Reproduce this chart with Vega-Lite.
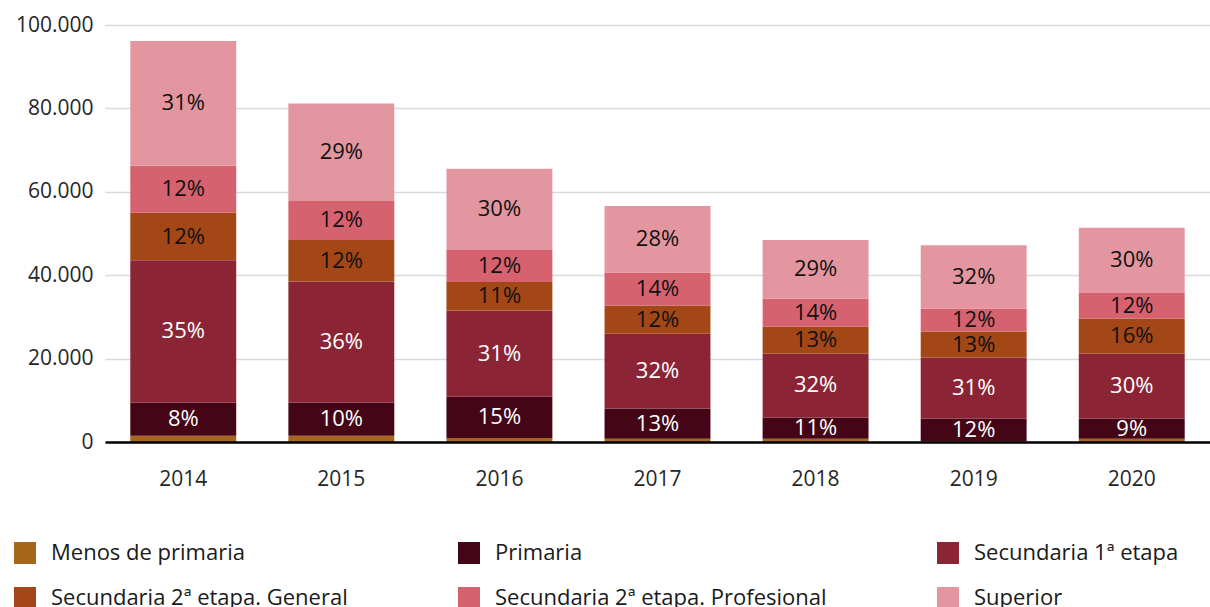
{
  "$schema": "https://vega.github.io/schema/vega-lite/v6.json",
  "width": 1105,
  "height": 417,
  "autosize": {"type": "none"},
  "padding": {"left": 105, "top": 25, "right": 0, "bottom": 165},
  "config": {"view": {"stroke": null}, "font": "Open Sans"},
  "data": {
    "values": [
      {"anio": "2014", "nivel": "Menos de primaria", "valor": 1500, "pct": ""},
      {"anio": "2014", "nivel": "Primaria", "valor": 7980, "pct": "8%"},
      {"anio": "2014", "nivel": "Secundaria 1ª etapa", "valor": 34100, "pct": "35%"},
      {"anio": "2014", "nivel": "Secundaria 2ª etapa. General", "valor": 11400, "pct": "12%"},
      {"anio": "2014", "nivel": "Secundaria 2ª etapa. Profesional", "valor": 11260, "pct": "12%"},
      {"anio": "2014", "nivel": "Superior", "valor": 29940, "pct": "31%"},
      {"anio": "2015", "nivel": "Menos de primaria", "valor": 1510, "pct": ""},
      {"anio": "2015", "nivel": "Primaria", "valor": 7980, "pct": "10%"},
      {"anio": "2015", "nivel": "Secundaria 1ª etapa", "valor": 28980, "pct": "36%"},
      {"anio": "2015", "nivel": "Secundaria 2ª etapa. General", "valor": 9990, "pct": "12%"},
      {"anio": "2015", "nivel": "Secundaria 2ª etapa. Profesional", "valor": 9340, "pct": "12%"},
      {"anio": "2015", "nivel": "Superior", "valor": 23390, "pct": "29%"},
      {"anio": "2016", "nivel": "Menos de primaria", "valor": 960, "pct": ""},
      {"anio": "2016", "nivel": "Primaria", "valor": 9890, "pct": "15%"},
      {"anio": "2016", "nivel": "Secundaria 1ª etapa", "valor": 20670, "pct": "31%"},
      {"anio": "2016", "nivel": "Secundaria 2ª etapa. General", "valor": 6870, "pct": "11%"},
      {"anio": "2016", "nivel": "Secundaria 2ª etapa. Profesional", "valor": 7660, "pct": "12%"},
      {"anio": "2016", "nivel": "Superior", "valor": 19470, "pct": "30%"},
      {"anio": "2017", "nivel": "Menos de primaria", "valor": 790, "pct": ""},
      {"anio": "2017", "nivel": "Primaria", "valor": 7260, "pct": "13%"},
      {"anio": "2017", "nivel": "Secundaria 1ª etapa", "valor": 17890, "pct": "32%"},
      {"anio": "2017", "nivel": "Secundaria 2ª etapa. General", "valor": 6780, "pct": "12%"},
      {"anio": "2017", "nivel": "Secundaria 2ª etapa. Profesional", "valor": 7900, "pct": "14%"},
      {"anio": "2017", "nivel": "Superior", "valor": 15980, "pct": "28%"},
      {"anio": "2018", "nivel": "Menos de primaria", "valor": 790, "pct": ""},
      {"anio": "2018", "nivel": "Primaria", "valor": 5100, "pct": "11%"},
      {"anio": "2018", "nivel": "Secundaria 1ª etapa", "valor": 15330, "pct": "32%"},
      {"anio": "2018", "nivel": "Secundaria 2ª etapa. General", "valor": 6470, "pct": "13%"},
      {"anio": "2018", "nivel": "Secundaria 2ª etapa. Profesional", "valor": 6710, "pct": "14%"},
      {"anio": "2018", "nivel": "Superior", "valor": 14060, "pct": "29%"},
      {"anio": "2019", "nivel": "Menos de primaria", "valor": 200, "pct": ""},
      {"anio": "2019", "nivel": "Primaria", "valor": 5450, "pct": "12%"},
      {"anio": "2019", "nivel": "Secundaria 1ª etapa", "valor": 14610, "pct": "31%"},
      {"anio": "2019", "nivel": "Secundaria 2ª etapa. General", "valor": 6230, "pct": "13%"},
      {"anio": "2019", "nivel": "Secundaria 2ª etapa. Profesional", "valor": 5510, "pct": "12%"},
      {"anio": "2019", "nivel": "Superior", "valor": 15190, "pct": "32%"},
      {"anio": "2020", "nivel": "Menos de primaria", "valor": 790, "pct": ""},
      {"anio": "2020", "nivel": "Primaria", "valor": 4860, "pct": "9%"},
      {"anio": "2020", "nivel": "Secundaria 1ª etapa", "valor": 15570, "pct": "30%"},
      {"anio": "2020", "nivel": "Secundaria 2ª etapa. General", "valor": 8380, "pct": "16%"},
      {"anio": "2020", "nivel": "Secundaria 2ª etapa. Profesional", "valor": 6160, "pct": "12%"},
      {"anio": "2020", "nivel": "Superior", "valor": 15640, "pct": "30%"}
    ]
  },
  "transform": [
    {"stack": "valor", "groupby": ["anio"], "sort": [{"field": "nivel", "order": "ascending"}], "as": ["y0", "y1"]},
    {"calculate": "(datum.y0 + datum.y1) / 2", "as": "ymid"}
  ],
  "encoding": {
    "x": {
      "field": "anio",
      "type": "ordinal",
      "scale": {"paddingInner": 0.33, "paddingOuter": 0.16},
      "axis": {
        "title": null,
        "labelAngle": 0,
        "labelFontSize": 21,
        "labelColor": "#262626",
        "labelPadding": 26,
        "ticks": false,
        "domainColor": "#000000",
        "domainWidth": 2.5,
        "zindex": 1
      }
    }
  },
  "layer": [
    {
      "mark": {"type": "bar"},
      "encoding": {
        "y": {
          "field": "y0",
          "type": "quantitative",
          "scale": {"domain": [0, 100000], "nice": false},
          "axis": {
            "title": null,
            "values": [0, 20000, 40000, 60000, 80000, 100000],
            "labelExpr": "datum.value == 0 ? '0' : format(datum.value / 1000, 'd') + '.000'",
            "labelFontSize": 21,
            "labelColor": "#262626",
            "labelPadding": 12,
            "ticks": false,
            "domain": false,
            "grid": true,
            "gridColor": "#d9d9d9",
            "gridWidth": 1.5
          }
        },
        "y2": {"field": "y1"},
        "color": {
          "field": "nivel",
          "type": "nominal",
          "scale": {
            "domain": ["Menos de primaria", "Primaria", "Secundaria 1ª etapa", "Secundaria 2ª etapa. General", "Secundaria 2ª etapa. Profesional", "Superior"],
            "range": ["#a6661b", "#440516", "#8b2535", "#a34717", "#d66270", "#e396a0"]
          },
          "legend": {
            "title": null,
            "orient": "none",
            "legendX": -91,
            "legendY": 517,
            "direction": "horizontal",
            "columns": 3,
            "columnPadding": 110,
            "rowPadding": 23,
            "symbolType": "square",
            "symbolSize": 484,
            "symbolStrokeWidth": 0,
            "symbolOpacity": 1,
            "labelFontSize": 22,
            "labelColor": "#1a1a1a",
            "labelOffset": 15,
            "labelLimit": 600
          }
        }
      }
    },
    {
      "transform": [{"filter": "datum.pct != ''"}],
      "mark": {"type": "text", "fontSize": 22},
      "encoding": {
        "y": {"field": "ymid", "type": "quantitative"},
        "text": {"field": "pct"},
        "color": {
          "condition": {"test": "datum.nivel == 'Primaria' || datum.nivel == 'Secundaria 1ª etapa'", "value": "#ffffff"},
          "value": "#111111"
        }
      }
    }
  ]
}
